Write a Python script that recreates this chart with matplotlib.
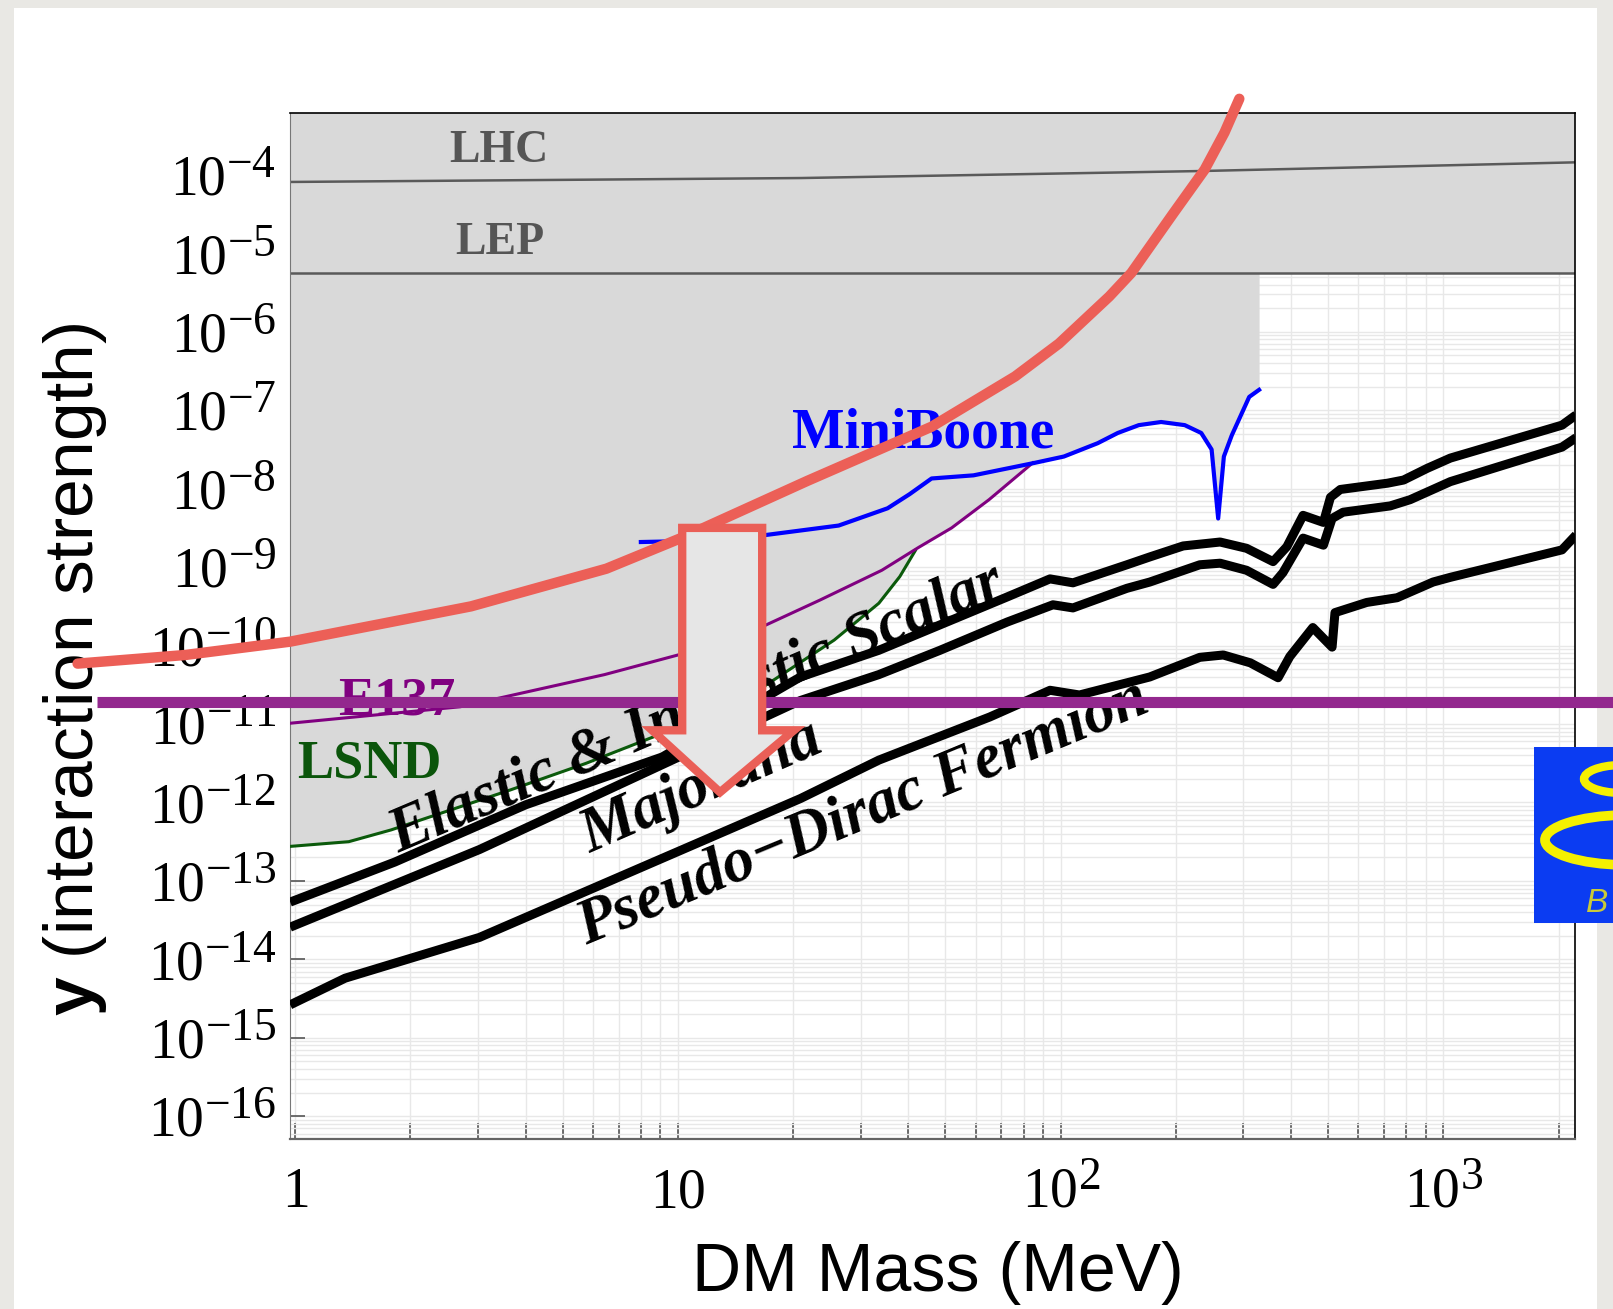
import numpy as np
import matplotlib
matplotlib.use('Agg')
import matplotlib.pyplot as plt
import matplotlib._mathtext as mathtext_mod
from matplotlib.patches import Polygon, Rectangle, Arc
from matplotlib.ticker import FixedLocator, LogLocator, NullFormatter

plt.rcParams['mathtext.fontset'] = 'custom'
plt.rcParams['mathtext.rm'] = 'Liberation Serif'
plt.rcParams['mathtext.it'] = 'Liberation Serif:italic'
plt.rcParams['mathtext.bf'] = 'Liberation Sans:bold'
plt.rcParams['font.family'] = ['Liberation Serif', 'DejaVu Serif']
# exponents in the original are drawn larger than mathtext's default
mathtext_mod.SHRINK_FACTOR = 0.82

# --- data: x in MeV, y given as log10(y) ---
scalar_x = [0.97, 1.82, 4.0, 9.1, 20.9, 33.5, 72.5, 93.8, 107.7, 149, 171, 209, 261, 306,
            359, 390, 430, 486, 507, 538, 715, 787, 908, 1043, 2042, 2222]
scalar_y = [-13.27, -12.76, -12.03, -11.42, -10.40, -10.06, -9.38, -9.15, -9.20, -8.97, -8.87,
            -8.73, -8.68, -8.76, -8.93, -8.74, -8.34, -8.43, -8.11, -8.01, -7.93, -7.89, -7.74,
            -7.61, -7.19, -7.06]

majorana_x = [0.97, 3.03, 20.9, 33.5, 48.4, 72.5, 95.5, 107.7, 149, 171, 231, 261, 306, 359,
              381, 430, 486, 512, 547, 726, 819, 1043, 2042, 2222]
majorana_y = [-13.59, -12.60, -10.70, -10.37, -10.06, -9.70, -9.48, -9.52, -9.27, -9.19, -8.97,
              -8.95, -9.04, -9.22, -9.07, -8.63, -8.72, -8.38, -8.30, -8.22, -8.14, -7.91,
              -7.47, -7.35]

dirac_x = [0.97, 1.35, 3.03, 20.9, 33.5, 65.3, 93.8, 112, 171, 231, 266, 313, 370, 397, 456,
           512, 521, 631, 757, 940, 1043, 2042, 2222]
dirac_y = [-14.58, -14.24, -13.72, -11.95, -11.46, -10.91, -10.57, -10.63, -10.40, -10.15,
           -10.12, -10.22, -10.41, -10.14, -9.77, -10.02, -9.58, -9.45, -9.39, -9.19, -9.13,
           -8.78, -8.59]

lsnd_x = [0.97, 1.38, 1.78, 3.65, 5.76, 9.1, 16.2, 25.6, 33.5, 38.0, 41.7]
lsnd_y = [-12.56, -12.50, -12.35, -11.84, -11.50, -11.12, -10.57, -9.93, -9.46, -9.12, -8.79]

e137_x = [0.97, 2.7, 6.43, 10.0, 16.6, 23.5, 34.1, 42.5, 51.9, 65.0, 84.6]
e137_y = [-10.99, -10.78, -10.37, -10.12, -9.76, -9.42, -9.04, -8.75, -8.50, -8.14, -7.67]

mb_x = [8.0, 10.0, 17.0, 26.3, 35.3, 40.3, 46.0, 59.2, 85.7, 102, 125, 141, 160, 183, 211,
        233, 248, 258, 267, 280, 311, 330]
mb_y = [-8.68, -8.67, -8.59, -8.47, -8.25, -8.07, -7.87, -7.83, -7.67, -7.59, -7.42, -7.29,
        -7.19, -7.15, -7.19, -7.29, -7.50, -8.38, -7.59, -7.32, -6.83, -6.74]

lhc_x = [0.97, 21, 237, 2208]
lhc_y = [-4.09, -4.04, -3.95, -3.84]
lep_y = -5.25

# hand-drawn overlay strokes
red_x = [0.27, 0.516, 0.97, 2.88, 6.5, 10.3, 21.8, 46, 76, 99, 134, 153, 197, 238, 268, 293]
red_y = [-10.23, -10.12, -9.95, -9.50, -9.02, -8.62, -7.90, -7.21, -6.57, -6.15, -5.55,
         -5.25, -4.49, -3.93, -3.46, -3.03]
purple_x = [0.303, 2780]
purple_y = [-10.72, -10.72]
arrow_x = [10.26, 16.6, 16.6, 20.1, 12.88, 8.56, 10.26]
arrow_y = [-8.50, -8.50, -11.08, -11.08, -11.87, -11.08, -11.08]

x_ticks = [1, 10, 100, 1000]
x_tick_labels = ['$1$', '$10$', '$10^{2}$', '$10^{3}$']
y_ticks = list(range(-16, -3))
y_tick_labels = ['$10^{%d}$' % k for k in y_ticks]

W, H = 1613, 1309
fig = plt.figure(figsize=(W / 100, H / 100), dpi=100)
fig.patch.set_facecolor('#e9e8e4')
fig.add_artist(Rectangle((14 / W, 0), (1597 - 14) / W, 1 - 8 / H, transform=fig.transFigure,
                         facecolor='white', edgecolor='none', zorder=-10))

ax = fig.add_axes([290 / W, 1 - 1139 / H, 1285 / W, 1026 / H])
ax.set_xscale('log')
ax.set_yscale('log')
ax.set_xlim(0.969, 2208)
ax.set_ylim(10 ** -16.29, 10 ** -3.211)
ax.set_axisbelow(True)

# excluded region: lower envelope of LSND / E137 / MiniBoone, up to LEP
grid = np.unique(np.concatenate([np.logspace(np.log10(0.969), np.log10(mb_x[-1]), 800),
                                 lsnd_x, e137_x, mb_x]))
grid = grid[(grid >= 0.969) & (grid <= mb_x[-1])]


def on_grid(xs, ys):
    v = np.interp(np.log10(grid), np.log10(xs), ys)
    return np.where((grid >= xs[0]) & (grid <= xs[-1]), v, np.nan)


lower = np.nanmin(np.vstack([on_grid(lsnd_x, lsnd_y), on_grid(e137_x, e137_y),
                             on_grid(mb_x, mb_y)]), axis=0)
grey = '#d9d9d9'
ax.fill_between(grid, 10 ** lower, 10 ** lep_y, color=grey, lw=0, zorder=1)
ax.axhspan(10 ** lep_y, 10 ** -3.211, color=grey, lw=0, zorder=1)

ax.plot(lhc_x, 10 ** np.array(lhc_y), color='#5a5a5a', lw=1.8, zorder=2)
ax.axhline(10 ** lep_y, color='#5a5a5a', lw=1.8, zorder=2)
ax.plot(lsnd_x, 10 ** np.array(lsnd_y), color='#0b5a0b', lw=2.2, zorder=3)
ax.plot(e137_x, 10 ** np.array(e137_y), color='#800080', lw=2.2, zorder=3)
ax.plot(mb_x, 10 ** np.array(mb_y), color='#0000ff', lw=3.0, zorder=3)

for xs, ys in [(scalar_x, scalar_y), (majorana_x, majorana_y), (dirac_x, dirac_y)]:
    ax.plot(xs, 10 ** np.array(ys), color='black', lw=6.5, solid_joinstyle='round',
            solid_capstyle='butt', zorder=4)

# labels
bold = dict(fontfamily='Liberation Serif', fontweight='bold', ha='center', va='center')
ax.text(3.41, 10 ** -3.695, 'LHC', fontsize=33, color='#555555', zorder=5, **bold)
ax.text(3.42, 10 ** -4.862, 'LEP', fontsize=33, color='#555555', zorder=5, **bold)
ax.text(43.6, 10 ** -7.30, 'MiniBoone', fontsize=40, color='#0000ff', zorder=5, **bold)
ax.text(1.84, 10 ** -10.71, 'E137', fontsize=39, color='#800080', zorder=5, **bold)
ax.text(1.56, 10 ** -11.52, 'LSND', fontsize=39, color='#0b550b', zorder=5, **bold)

rot = dict(fontfamily='Liberation Serif', fontweight='bold', fontstyle='italic', ha='center',
           va='center', rotation_mode='anchor', color='black', zorder=5)
ax.text(11.2, 10 ** -10.82, 'Elastic & Inelastic Scalar', fontsize=45, rotation=23, **rot)
ax.text(11.6, 10 ** -11.82, 'Majorana', fontsize=45, rotation=23.5, **rot)
ax.text(30.5, 10 ** -12.14, 'Pseudo\u2212Dirac Fermion', fontsize=45, rotation=22.5, **rot)

# ticks and grid
ax.xaxis.set_major_locator(FixedLocator(x_ticks))
ax.xaxis.set_minor_locator(LogLocator(base=10, subs=np.arange(2, 10), numticks=50))
ax.xaxis.set_minor_formatter(NullFormatter())
ax.set_xticklabels(x_tick_labels)
ax.yaxis.set_major_locator(FixedLocator([10.0 ** k for k in y_ticks]))
ax.yaxis.set_minor_locator(LogLocator(base=10, subs=np.arange(2, 10), numticks=100))
ax.yaxis.set_minor_formatter(NullFormatter())
ax.set_yticklabels(y_tick_labels)

ax.tick_params(which='both', direction='in', top=False, right=False, color='#555555', width=1.2)
ax.tick_params(axis='x', which='both', length=11.5)
ax.tick_params(axis='x', which='major', pad=49, labelsize=40)
ax.tick_params(axis='y', which='major', length=11, pad=10, labelsize=40)
ax.tick_params(axis='y', which='minor', length=0)
for lab in ax.get_xticklabels():
    lab.set_va('baseline')

ax.grid(which='both', color='#e8e8e8', lw=1.0, zorder=0.5)
ax.spines['left'].set_color('#777777')
ax.spines['bottom'].set_color('#666666')
ax.spines['bottom'].set_linewidth(1.6)
ax.spines['top'].set_linewidth(1.2)
ax.spines['right'].set_linewidth(1.2)

ax.set_xlabel('DM Mass (MeV)', fontfamily='Liberation Sans', fontsize=49)
ax.xaxis.set_label_coords(0.504, -0.148)
ax.xaxis.label.set_va('baseline')
ax.set_ylabel('$\\mathbf{y}$ (interaction strength)', fontfamily='Liberation Sans', fontsize=50)
ax.yaxis.set_label_coords(-0.167, 0.458)
ax.yaxis.label.set_va('center')

# hand-drawn overlays
ax.plot(red_x, 10 ** np.array(red_y), color='#ec5f57', lw=7.5, solid_capstyle='round',
        solid_joinstyle='round', clip_on=False, zorder=12)
ax.plot(purple_x, 10 ** np.array(purple_y), color='#93288e', lw=8, solid_capstyle='butt',
        clip_on=False, zorder=11)
ax.add_patch(Polygon(np.column_stack([arrow_x, 10 ** np.array(arrow_y)]), closed=True,
                     facecolor='#e6e6e6', edgecolor='#ea5f57', lw=6, joinstyle='miter',
                     zorder=13))

# partial logo at right edge
fig.add_artist(Rectangle((1534 / W, 1 - 923 / H), (1613 - 1534) / W, (923 - 747) / H,
                         transform=fig.transFigure, facecolor='#0b3cf2', edgecolor='none',
                         zorder=20))
fig.add_artist(Arc((1622 / W, 1 - 779 / H), 76 / W, 28 / H, theta1=100, theta2=260,
                   transform=fig.transFigure, color='#f5f000', lw=6, zorder=21))
fig.add_artist(Arc((1628 / W, 1 - 840 / H), 166 / W, 50 / H, theta1=100, theta2=262,
                   transform=fig.transFigure, color='#f5f000', lw=7, zorder=21))
fig.text(1586 / W, 1 - 912 / H, 'B', fontfamily='Liberation Sans', fontstyle='italic',
         fontsize=24, color='#c9c93a', zorder=21)

fig.savefig('out.png', dpi=100, facecolor=fig.get_facecolor())
